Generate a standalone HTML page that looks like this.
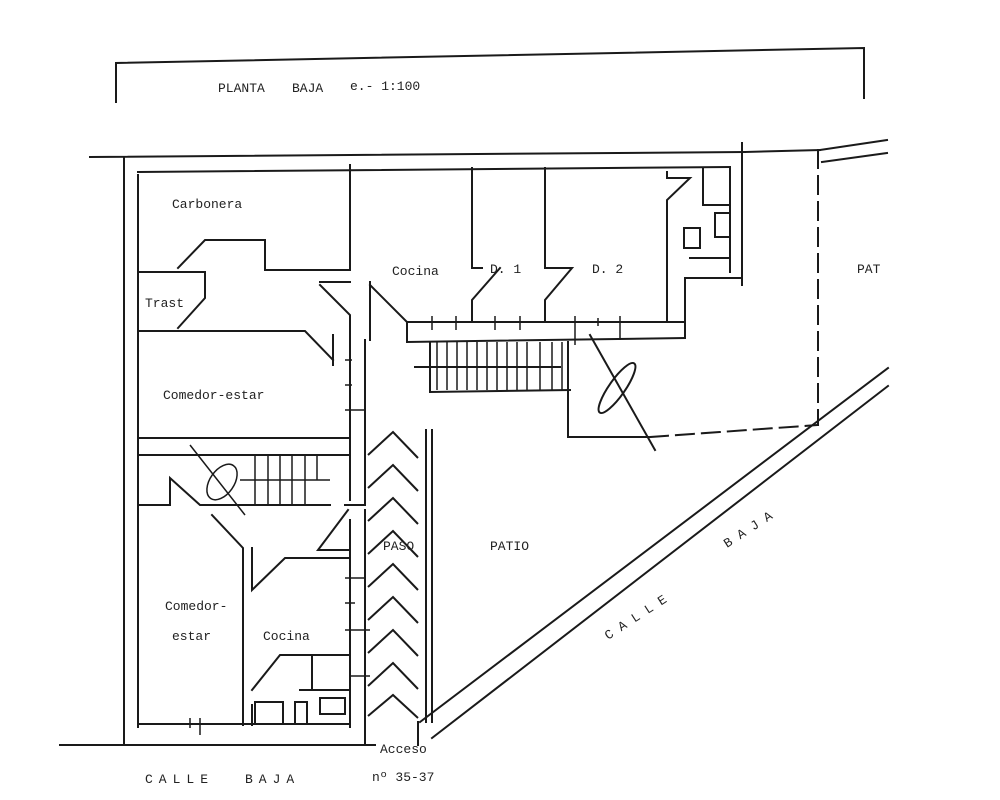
<!DOCTYPE html>
<html><head><meta charset="utf-8"><style>
html,body{margin:0;padding:0;background:#fff;}
svg{display:block;}
text{font-family:"Liberation Mono",monospace;fill:#222;font-size:13px;}
</style></head><body>
<svg width="1000" height="800" viewBox="0 0 1000 800" xmlns="http://www.w3.org/2000/svg">
<g stroke="#1a1a1a" stroke-width="2" fill="none" stroke-linecap="square">
<!-- title box -->
<polyline points="116,102 116,63 864,48 864,98"/>
<!-- top boundary -->
<line x1="90" y1="157" x2="745" y2="152"/>
<line x1="745" y1="152" x2="820" y2="150"/>
<line x1="820" y1="150" x2="887" y2="140"/>
<line x1="822" y1="162" x2="887" y2="153"/>
<line x1="742" y1="143" x2="742" y2="285"/>
<!-- left walls -->
<line x1="124" y1="157" x2="124" y2="745"/>
<line x1="138" y1="175" x2="138" y2="727"/>
<line x1="138" y1="172" x2="730" y2="167"/>
<!-- Carbonera -->
<line x1="350" y1="165" x2="350" y2="270"/>
<polyline points="350,270 265,270 265,240 205,240 178,268"/>
<polyline points="138,272 205,272 205,298 178,328"/>
<polyline points="138,331 305,331 333,360"/>
<line x1="350" y1="282" x2="320" y2="282"/>
<polyline points="320,285 350,315 350,500"/>
<polyline points="333,335 333,365"/>
<line x1="365" y1="340" x2="365" y2="505"/>
<polyline points="370,282 370,340"/>
<polyline points="370,285 407,322 407,342"/>
<!-- Comedor bottom -->
<line x1="138" y1="438" x2="348" y2="438"/>
<line x1="138" y1="455" x2="348" y2="455"/>
<polyline points="138,505 170,505 170,478 200,505 330,505"/>
<polyline points="345,505 365,505"/>
<!-- upper stair -->
<line x1="407" y1="322" x2="685" y2="322"/>
<line x1="407" y1="342" x2="685" y2="338"/>
<line x1="430" y1="342" x2="430" y2="392"/>
<line x1="430" y1="392" x2="570" y2="390"/>
<line x1="415" y1="367" x2="560" y2="367"/>
<line x1="568" y1="342" x2="568" y2="437"/>
<line x1="568" y1="437" x2="648" y2="437"/>
<!-- D1 D2 -->
<polyline points="472,168 472,268 482,268"/>
<polyline points="500,268 472,300 472,322"/>
<polyline points="545,168 545,268 572,268 545,300 545,322"/>
<polyline points="667,322 667,200 690,178 667,178 667,172"/>
<polyline points="667,322 685,322"/>
<polyline points="685,338 685,278 742,278"/>
<polyline points="703,168 703,205 730,205 730,168"/>
<polyline points="715,213 730,213 730,237 715,237 715,213"/>
<rect x="684" y="228" width="16" height="20"/>
<line x1="730" y1="168" x2="730" y2="272"/>
<line x1="690" y1="258" x2="730" y2="258"/>
<!-- patio dashed -->
<line x1="818" y1="150" x2="818" y2="425" stroke-dasharray="18,8"/>
<line x1="650" y1="437" x2="818" y2="425" stroke-dasharray="18,8"/>
<line x1="590" y1="335" x2="655" y2="450"/>
<ellipse cx="617" cy="388" rx="30" ry="8" transform="rotate(-55 617 388)"/>
<!-- street diagonal -->
<line x1="420" y1="722" x2="888" y2="368"/>
<line x1="432" y1="738" x2="888" y2="386"/>
<!-- paso wall -->
<line x1="426" y1="430" x2="426" y2="722"/>
<line x1="432" y1="430" x2="432" y2="722"/>
<polyline points="418,722 418,745"/>
<!-- lower block -->
<line x1="350" y1="520" x2="350" y2="727"/>
<line x1="365" y1="510" x2="365" y2="745"/>
<polyline points="348,510 318,550 350,550"/>
<polyline points="212,515 243,548 243,725"/>
<polyline points="252,548 252,590 285,558 350,558"/>
<polyline points="252,690 280,655 350,655"/>
<line x1="312" y1="655" x2="312" y2="690"/>
<line x1="300" y1="690" x2="350" y2="690"/>
<rect x="255" y="702" width="28" height="22"/>
<rect x="295" y="702" width="12" height="22"/>
<rect x="320" y="698" width="25" height="16"/>
<line x1="252" y1="705" x2="252" y2="725"/>
<line x1="138" y1="724" x2="350" y2="724"/>
<line x1="60" y1="745" x2="365" y2="745"/>
<line x1="365" y1="745" x2="375" y2="745"/>
</g>
<!-- stair treads -->
<g stroke="#1a1a1a" stroke-width="1.5">
<line x1="437" y1="342" x2="437" y2="390"/><line x1="447" y1="342" x2="447" y2="390"/>
<line x1="457" y1="342" x2="457" y2="390"/><line x1="467" y1="342" x2="467" y2="390"/>
<line x1="477" y1="342" x2="477" y2="390"/><line x1="487" y1="342" x2="487" y2="390"/>
<line x1="497" y1="342" x2="497" y2="390"/><line x1="507" y1="342" x2="507" y2="390"/>
<line x1="517" y1="342" x2="517" y2="390"/><line x1="527" y1="342" x2="527" y2="390"/>
<line x1="540" y1="342" x2="540" y2="390"/><line x1="552" y1="342" x2="552" y2="390"/>
<line x1="562" y1="342" x2="562" y2="390"/>
<line x1="432" y1="316" x2="432" y2="330"/><line x1="456" y1="316" x2="456" y2="330"/>
<line x1="495" y1="316" x2="495" y2="330"/><line x1="520" y1="316" x2="520" y2="330"/>
<line x1="575" y1="316" x2="575" y2="345"/><line x1="598" y1="318" x2="598" y2="326"/>
<line x1="620" y1="316" x2="620" y2="340"/>
<line x1="255" y1="455" x2="255" y2="505"/><line x1="268" y1="455" x2="268" y2="505"/>
<line x1="280" y1="455" x2="280" y2="505"/><line x1="292" y1="455" x2="292" y2="505"/>
<line x1="305" y1="455" x2="305" y2="505"/><line x1="317" y1="455" x2="317" y2="480"/>
<line x1="240" y1="480" x2="330" y2="480"/>
<line x1="190" y1="445" x2="245" y2="515"/>
<ellipse cx="222" cy="482" rx="12" ry="20" transform="rotate(35 222 482)" fill="none"/>
<line x1="345" y1="360" x2="352" y2="360"/><line x1="345" y1="385" x2="352" y2="385"/>
<line x1="345" y1="410" x2="365" y2="410"/>
<line x1="345" y1="578" x2="365" y2="578"/><line x1="345" y1="603" x2="355" y2="603"/>
<line x1="345" y1="630" x2="370" y2="630"/><line x1="350" y1="676" x2="370" y2="676"/>
<line x1="200" y1="718" x2="200" y2="735"/><line x1="190" y1="718" x2="190" y2="728"/>
</g>
<!-- chevrons -->
<g stroke="#1a1a1a" stroke-width="2" fill="none">
<polyline points="368,455 393,432 418,458"/>
<polyline points="368,488 393,465 418,491"/>
<polyline points="368,521 393,498 418,524"/>
<polyline points="368,554 393,531 418,557"/>
<polyline points="368,587 393,564 418,590"/>
<polyline points="368,620 393,597 418,623"/>
<polyline points="368,653 393,630 418,656"/>
<polyline points="368,686 393,663 418,689"/>
<polyline points="368,716 393,695 418,718"/>
</g>
<text x="218" y="92">PLANTA</text><text x="292" y="92">BAJA</text><text x="350" y="90">e.- 1:100</text>
<text x="172" y="208">Carbonera</text>
<text x="145" y="307">Trast</text>
<text x="392" y="275">Cocina</text>
<text x="490" y="273">D. 1</text>
<text x="592" y="273">D. 2</text>
<text x="857" y="273">PAT</text>
<text x="163" y="399">Comedor-estar</text>
<text x="383" y="550">PASO</text>
<text x="490" y="550">PATIO</text>
<text x="165" y="610">Comedor-</text>
<text x="172" y="640">estar</text>
<text x="263" y="640">Cocina</text>
<text x="380" y="753">Acceso</text>
<text x="145" y="783" letter-spacing="6">CALLE</text>
<text x="245" y="783" letter-spacing="6">BAJA</text>
<text x="372" y="781">nº 35-37</text>
<text transform="translate(608,640) rotate(-33)" letter-spacing="8">CALLE</text>
<text transform="translate(727,548) rotate(-33)" letter-spacing="8">BAJA</text>
</svg>
</body></html>
